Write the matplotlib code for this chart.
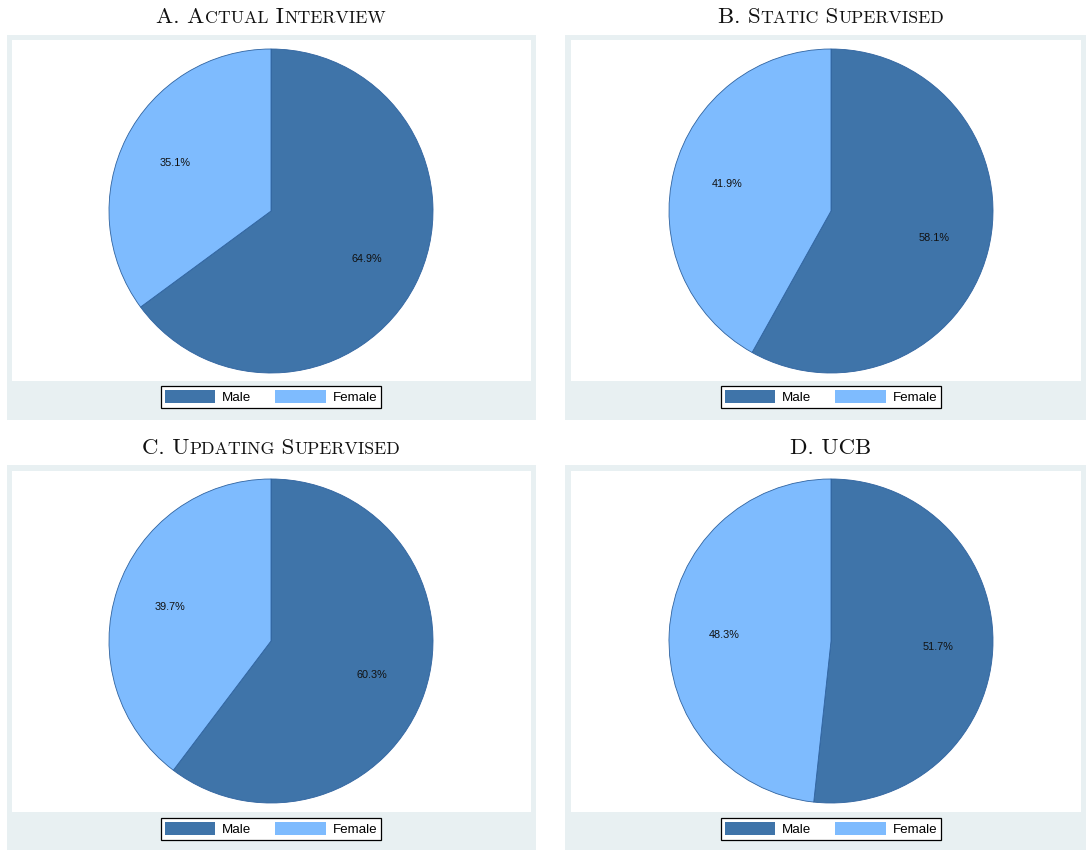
import matplotlib
matplotlib.use("Agg")
import matplotlib.pyplot as plt
from matplotlib.patches import Rectangle, Patch
from matplotlib.offsetbox import TextArea, HPacker, AnnotationBbox

W, H = 1086, 850

titles = ["A. Actual Interview", "B. Static Supervised",
          "C. Updating Supervised", "D. UCB"]
male = [64.9, 58.1, 60.3, 51.7]
female = [35.1, 41.9, 39.7, 48.3]
labels = ["Male", "Female"]

maleCol = "#3F74A9"
femaleCol = "#7EBBFE"
edgeCol = "#2F63A0"
outerCol = "#E8F0F2"

# panel geometry in pixels: (x0, y0, x1, y1) measured from top-left
panels = [
    dict(outer=(7, 35, 536, 420), inner=(12, 40, 531, 381), cx=271, cy=211, leg=397, ty=17),
    dict(outer=(565, 35, 1086, 420), inner=(571, 40, 1081, 381), cx=831, cy=211, leg=397, ty=17),
    dict(outer=(7, 465, 536, 850), inner=(12, 471, 531, 812), cx=271, cy=641, leg=829, ty=448),
    dict(outer=(565, 465, 1086, 850), inner=(571, 471, 1081, 812), cx=831, cy=641, leg=829, ty=448),
]
r = 162


def pxbox(x0, y0, x1, y1):
    return [x0 / W, 1 - y1 / H, (x1 - x0) / W, (y1 - y0) / H]


def smallcaps(text, big=16.5, small=12.8):
    # split text into runs of big (caps, punctuation, spaces) and small (lowercase) letters
    runs = []
    for ch in text:
        isSmall = ch.islower()
        if runs and runs[-1][1] == isSmall:
            runs[-1][0] += ch
        else:
            runs.append([ch, isSmall])
    boxes = []
    for s, isSmall in runs:
        boxes.append(TextArea(s.upper() if isSmall else s,
                              textprops=dict(fontfamily="cmr10",
                                             fontsize=small if isSmall else big,
                                             color="#111111")))
    return HPacker(children=boxes, align="baseline", pad=0, sep=0)


fig = plt.figure(figsize=(W / 100, H / 100), dpi=100)
bg = fig.add_axes([0, 0, 1, 1])
bg.set_xlim(0, W)
bg.set_ylim(H, 0)
bg.axis("off")

for i, p in enumerate(panels):
    x0, y0, x1, y1 = p["outer"]
    bg.add_patch(Rectangle((x0, y0), x1 - x0, y1 - y0, facecolor=outerCol, edgecolor="none"))
    x0, y0, x1, y1 = p["inner"]
    bg.add_patch(Rectangle((x0, y0), x1 - x0, y1 - y0, facecolor="white", edgecolor="none"))

    ab = AnnotationBbox(smallcaps(titles[i]), (p["cx"], p["ty"]), xycoords="data",
                        frameon=False, box_alignment=(0.5, 0.5))
    bg.add_artist(ab)

    cx, cy = p["cx"], p["cy"]
    ax = fig.add_axes(pxbox(cx - r, cy - r, cx + r, cy + r))
    wedges, texts, autotexts = ax.pie(
        [male[i], female[i]], colors=[maleCol, femaleCol], startangle=90,
        counterclock=False, radius=1, autopct="%.1f%%", pctdistance=0.66,
        wedgeprops=dict(edgecolor=edgeCol, linewidth=0.6),
        textprops=dict(fontsize=7.8, family="Liberation Sans", color="#111111"))
    for w in wedges:
        w.set_clip_on(False)
    ax.set_xlim(-1, 1)
    ax.set_ylim(-1, 1)
    ax.axis("off")

    handles = [Patch(facecolor=maleCol, edgecolor="none"),
               Patch(facecolor=femaleCol, edgecolor="none")]
    leg = fig.legend(handles, labels, loc="center",
                     bbox_to_anchor=(cx / W, 1 - p["leg"] / H), ncol=2,
                     frameon=True, fancybox=False, edgecolor="black", framealpha=1,
                     prop=dict(family="Liberation Sans", size=9.6),
                     handlelength=3.8, handleheight=1.05, handletextpad=0.5,
                     columnspacing=1.8, borderpad=0.3, borderaxespad=0)
    leg.get_frame().set_linewidth(0.9)

fig.savefig("out.png", dpi=100)
